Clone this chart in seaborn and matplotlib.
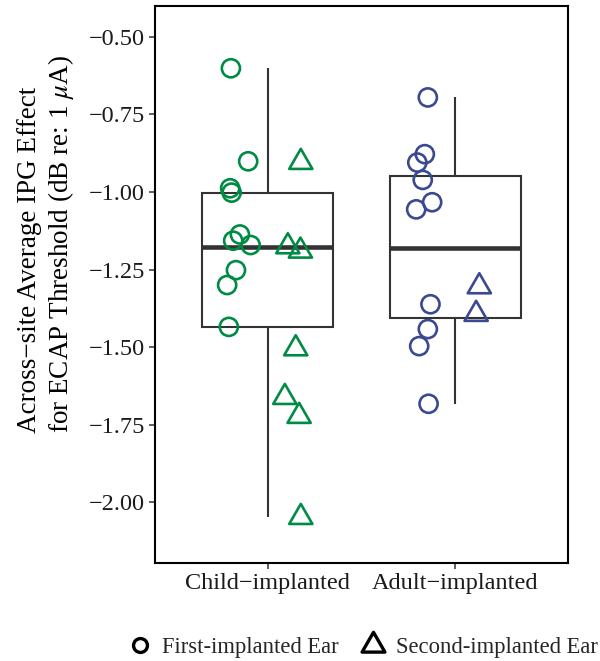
import matplotlib
matplotlib.use("Agg")
import matplotlib.pyplot as plt
from matplotlib.lines import Line2D
from matplotlib.path import Path
import seaborn as sns
import pandas as pd
import numpy as np

# 資料
groups = ["Child−implanted", "Adult−implanted"]
child_first = [-0.601, -0.901, -0.988, -1.002, -1.137, -1.157, -1.171, -1.252, -1.300, -1.435]
child_first_jit = [-0.195, -0.103, -0.199, -0.191, -0.147, -0.183, -0.090, -0.168, -0.215, -0.206]
child_second = [-0.904, -1.176, -1.190, -1.505, -1.662, -1.723, -2.049]
child_second_jit = [0.177, 0.108, 0.175, 0.150, 0.092, 0.168, 0.177]
adult_first = [-0.695, -0.878, -0.905, -0.961, -1.033, -1.056, -1.362, -1.442, -1.497, -1.683]
adult_first_jit = [-0.147, -0.163, -0.203, -0.174, -0.124, -0.209, -0.133, -0.147, -0.193, -0.143]
adult_second = [-1.305, -1.394]
adult_second_jit = [0.127, 0.110]
ear_labels = ["First-implanted Ear", "Second-implanted Ear"]
y_ticks = [-2.00, -1.75, -1.50, -1.25, -1.00, -0.75, -0.50]
y_ticklabels = ["−2.00", "−1.75", "−1.50", "−1.25", "−1.00", "−0.75", "−0.50"]
palette = {"Child−implanted": "#008B45", "Adult−implanted": "#3B4992"}

rows = []
for g, vals, jit, ear in [
        (groups[0], child_first, child_first_jit, ear_labels[0]),
        (groups[0], child_second, child_second_jit, ear_labels[1]),
        (groups[1], adult_first, adult_first_jit, ear_labels[0]),
        (groups[1], adult_second, adult_second_jit, ear_labels[1])]:
    for v, j in zip(vals, jit):
        rows.append({"group": g, "value": v, "ear": ear,
                     "xpos": groups.index(g) + j})
df = pd.DataFrame(rows)

sns.set_theme(style="white")
plt.rcParams['font.family'] = ['Liberation Serif', 'DejaVu Serif']
plt.rcParams['mathtext.fontset'] = 'stix'
plt.rcParams['axes.unicode_minus'] = True

# 等邊三角形（重心置中，封閉路徑）
tri = Path([(0, 0.577), (-0.5, -0.289), (0.5, -0.289), (0, 0.577)], closed=True)

fig = plt.figure(figsize=(6, 6.61), dpi=100)
ax = fig.add_axes([0.258, 0.148, 0.689, 0.843])

sns.boxplot(data=df, x="group", y="value", order=groups, width=0.7,
            color="white", linecolor="#333333", linewidth=1.5,
            showcaps=False, showfliers=False,
            medianprops={"linewidth": 3.3, "color": "#333333"},
            whiskerprops={"linewidth": 1.5}, ax=ax)

first = df[df["ear"] == ear_labels[0]]
second = df[df["ear"] == ear_labels[1]]
for g in groups:
    sub = first[first["group"] == g]
    ax.scatter(sub["xpos"], sub["value"], s=170, marker="o",
               facecolors="none", edgecolors=palette[g], linewidths=1.9, zorder=5)
    sub = second[second["group"] == g]
    ax.scatter(sub["xpos"], sub["value"], s=370, marker=tri,
               facecolors="none", edgecolors=palette[g], linewidths=1.9, zorder=5)

ax.set_xlim(-0.6, 1.6)
ax.set_ylim(-2.197, -0.40)
ax.set_yticks(y_ticks)
ax.set_yticklabels(y_ticklabels)
ax.set_xlabel("")
ax.set_ylabel("Across−site Average IPG Effect\nfor ECAP Threshold (dB re: 1 $\\mu$A)",
              fontsize=19.5, color="black", linespacing=1.2, multialignment="left")
ax.yaxis.set_label_coords(-0.19, 0.572)
ax.tick_params(axis="both", which="both", direction="out", length=4, width=1.1,
               color="#333333", labelsize=17.5, labelcolor="#1a1a1a",
               left=True, bottom=True, pad=3)
for sp in ax.spines.values():
    sp.set_visible(True)
    sp.set_color("black")
    sp.set_linewidth(1.5)

handles = [
    Line2D([], [], ls="none", marker="o", ms=10, mfc="none", mec="black", mew=2.4),
    Line2D([], [], ls="none", marker=tri, ms=19, mfc="none", mec="black", mew=2.4),
]
fig.legend(handles, ear_labels, loc="center", bbox_to_anchor=(0.604, 0.021),
           ncol=2, frameon=False, fontsize=16.3, handletextpad=0.45,
           columnspacing=0.95, handlelength=1.1, borderpad=0.1)

plt.savefig("out.png", dpi=100)
plt.close()
